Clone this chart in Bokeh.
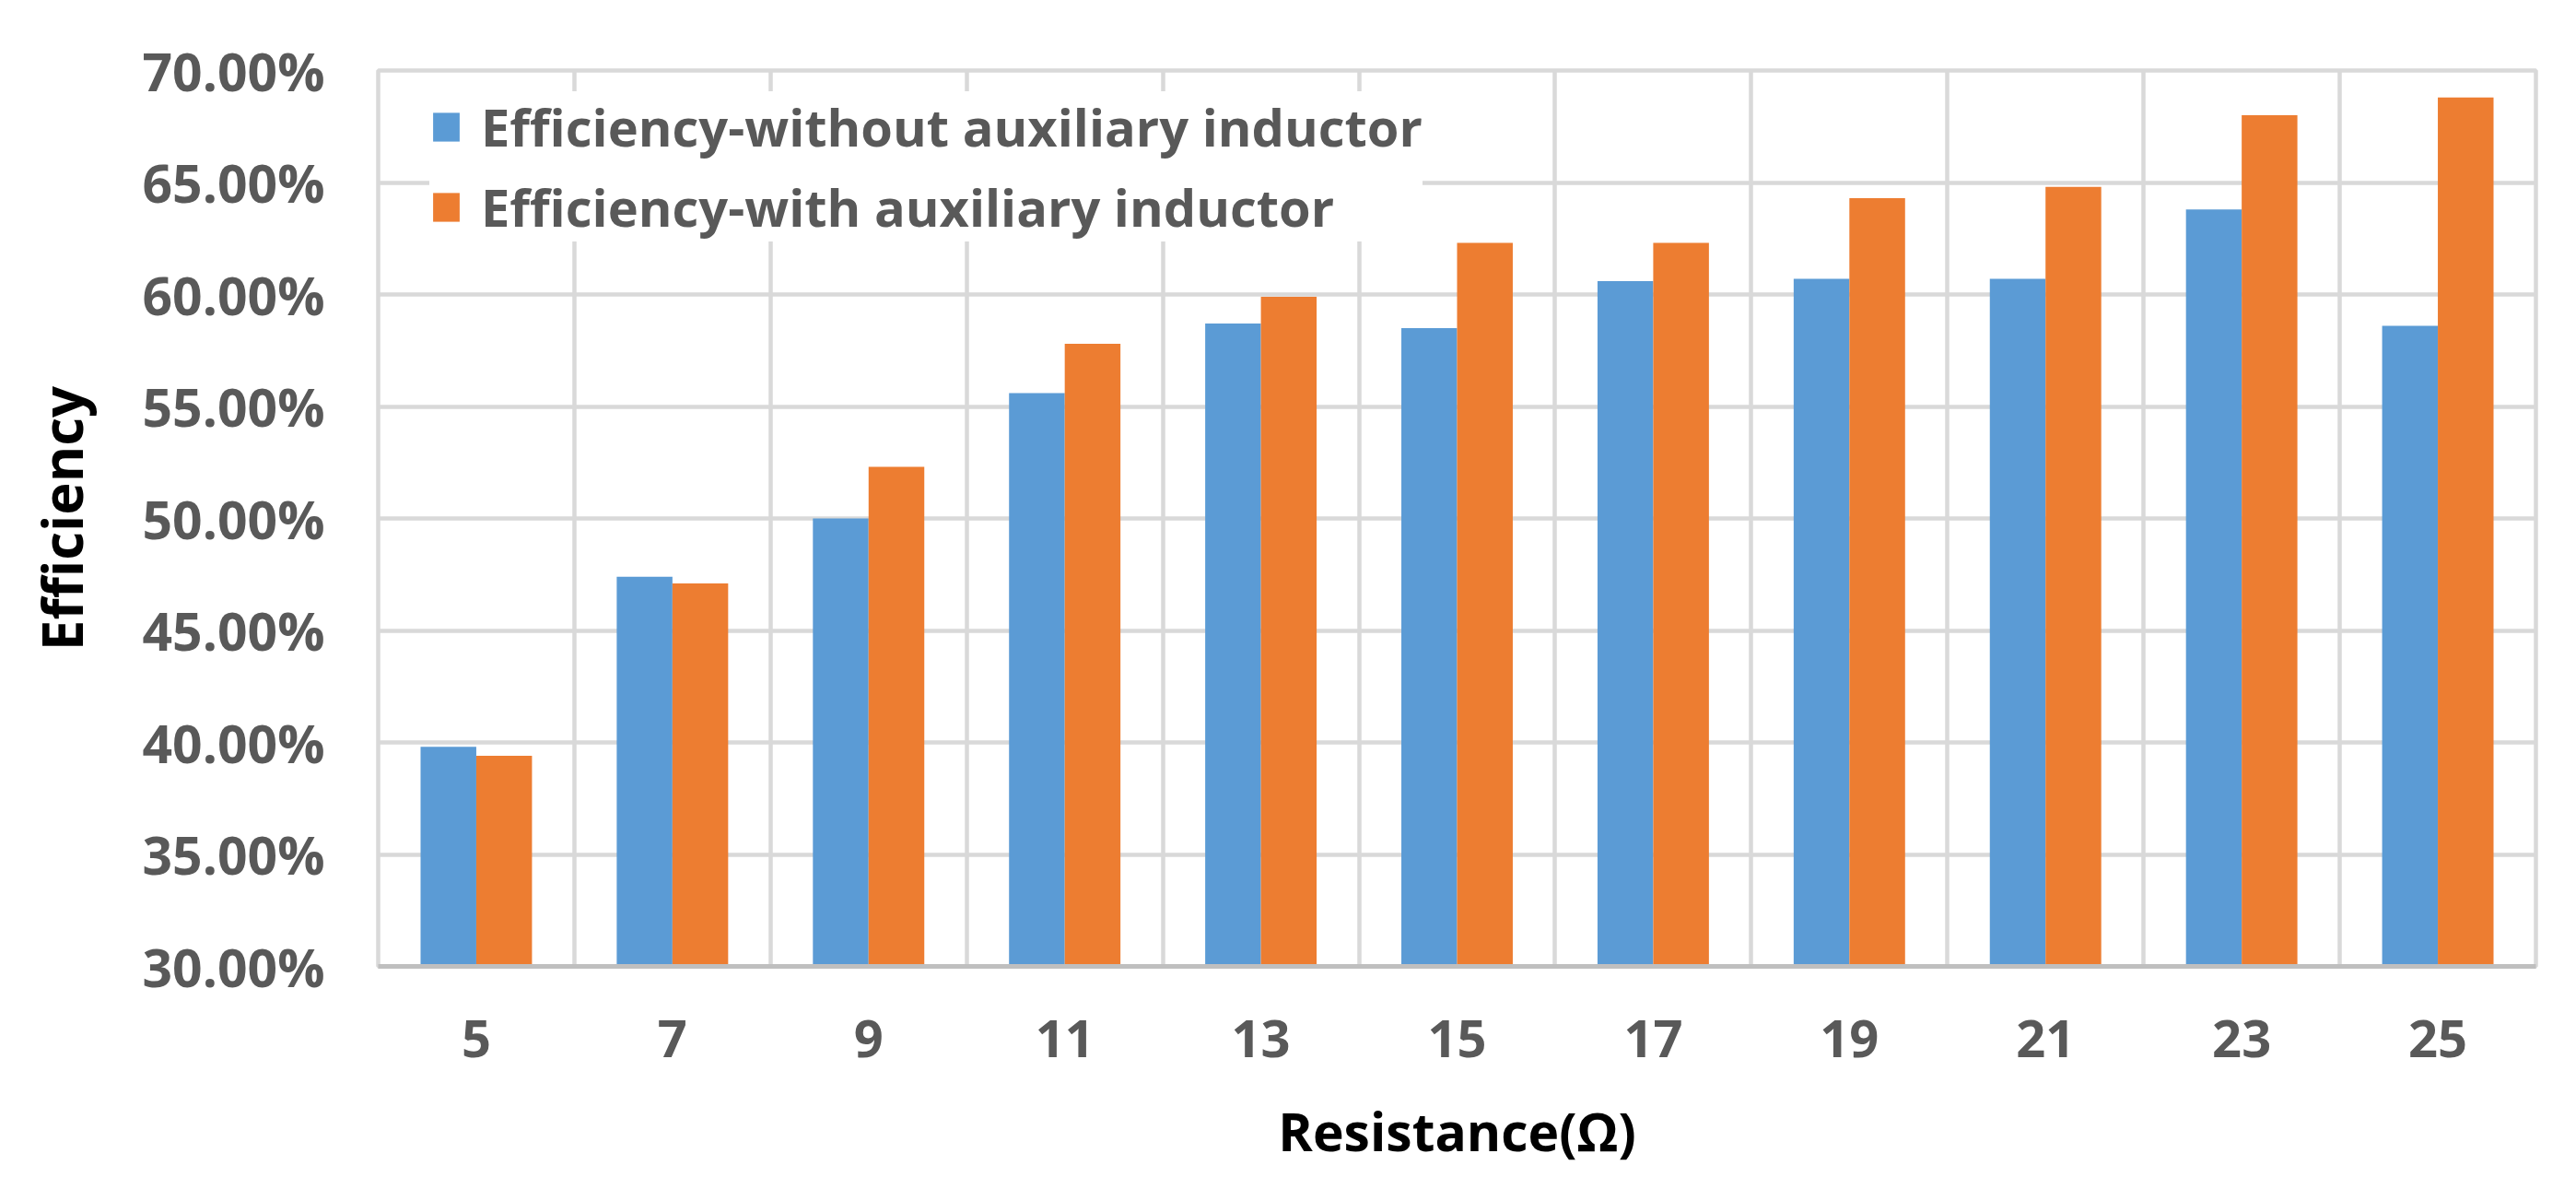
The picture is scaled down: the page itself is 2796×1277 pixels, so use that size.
from bokeh.plotting import figure
from bokeh.models import (Range1d, FixedTicker, SingleIntervalTicker, PrintfTickFormatter,
                          Legend, LegendItem)
from bokeh.embed import file_html
from bokeh.resources import INLINE

# ---- data ----
resistance = ["5", "7", "9", "11", "13", "15", "17", "19", "21", "23", "25"]
eff_without = [39.8, 47.4, 50.0, 55.6, 58.7, 58.5, 60.6, 60.7, 60.7, 63.8, 58.6]
eff_with = [39.4, 47.1, 52.3, 57.8, 59.9, 62.3, 62.3, 64.3, 64.8, 68.0, 68.8]
series_names = ["Efficiency-without auxiliary inductor", "Efficiency-with auxiliary inductor"]
y_min, y_max, y_step = 30, 70, 5

BLUE = "#5B9BD5"
ORANGE = "#ED7D31"
GRID = "#D9D9D9"
FONT = "Open Sans"

n = len(resistance)
centers = [i + 0.5 for i in range(n)]
bar_w = 0.284

p = figure(width=2796, height=1277, output_backend="svg", toolbar_location=None,
           x_range=Range1d(0, n), y_range=Range1d(y_min, y_max),
           min_border_left=410, min_border_right=44, min_border_top=76, min_border_bottom=229)
p.background_fill_color = "white"
p.border_fill_color = "white"
p.outline_line_color = GRID
p.outline_line_width = 4.5

r1 = p.vbar(x=[c - bar_w / 2 for c in centers], top=eff_without, bottom=y_min, width=bar_w,
            fill_color=BLUE, line_color=None)
r2 = p.vbar(x=[c + bar_w / 2 for c in centers], top=eff_with, bottom=y_min, width=bar_w,
            fill_color=ORANGE, line_color=None)

# x axis
p.xaxis.ticker = FixedTicker(ticks=centers)
p.xaxis.major_label_overrides = {c: lab for c, lab in zip(centers, resistance)}
p.xaxis.axis_line_color = "#BFBFBF"
p.xaxis.axis_line_width = 5
p.xaxis.major_tick_line_color = None
p.xaxis.minor_tick_line_color = None
p.xaxis.major_label_text_font = FONT
p.xaxis.major_label_text_font_size = "56px"
p.xaxis.major_label_text_font_style = "bold"
p.xaxis.major_label_text_color = "#595959"
p.xaxis.major_label_standoff = 52
p.xaxis.axis_label = "Resistance(\u03a9)"
p.xaxis.axis_label_text_font = FONT
p.xaxis.axis_label_text_font_size = "57px"
p.xaxis.axis_label_text_font_style = "bold"
p.xaxis.axis_label_text_color = "black"
p.xaxis.axis_label_standoff = 38

# y axis
p.yaxis.ticker = SingleIntervalTicker(interval=y_step)
p.yaxis.formatter = PrintfTickFormatter(format="%.2f%%")
p.yaxis.axis_line_color = None
p.yaxis.major_tick_line_color = None
p.yaxis.minor_tick_line_color = None
p.yaxis.major_label_text_font = FONT
p.yaxis.major_label_text_font_size = "57px"
p.yaxis.major_label_text_font_style = "bold"
p.yaxis.major_label_text_color = "#595959"
p.yaxis.major_label_standoff = 52
p.yaxis.axis_label = "Efficiency"
p.yaxis.axis_label_text_font = FONT
p.yaxis.axis_label_text_font_size = "60px"
p.yaxis.axis_label_text_font_style = "bold"
p.yaxis.axis_label_text_color = "black"
p.yaxis.axis_label_standoff = 44

# grids
p.ygrid.ticker = SingleIntervalTicker(interval=y_step)
p.ygrid.grid_line_color = GRID
p.ygrid.grid_line_width = 4.5
p.xgrid.ticker = FixedTicker(ticks=list(range(n + 1)))
p.xgrid.grid_line_color = GRID
p.xgrid.grid_line_width = 4.5

legend = Legend(items=[LegendItem(label=series_names[0], renderers=[r1]),
                       LegendItem(label=series_names[1], renderers=[r2])],
                location=(56, 786), margin=0, padding=20,
                background_fill_color="white", background_fill_alpha=1.0,
                border_line_color=None,
                label_text_font=FONT, label_text_font_size="56px", label_text_font_style="bold",
                label_text_color="#595959",
                glyph_width=36, glyph_height=39, label_standoff=20, spacing=11)
p.add_layout(legend)

open("out.html", "w").write(file_html(p, INLINE))
